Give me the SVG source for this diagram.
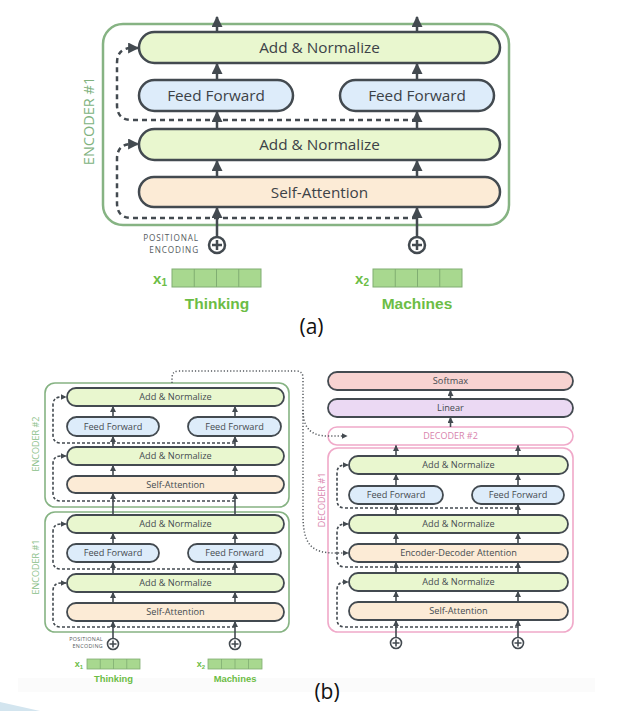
<svg xmlns="http://www.w3.org/2000/svg" width="622" height="711" viewBox="0 0 622 711">
  <defs>
    <style>
      .lbl { font-family: "Open Sans", "DejaVu Sans", sans-serif; fill: #3c4247; text-anchor: middle; font-weight: 500; }
      .la { font-size: 15.3px; }
      .lb { font-size: 9.2px; fill: #454b50; }
      .ba { stroke: #434a50; stroke-width: 2.5; }
      .bb { stroke: #434a50; stroke-width: 1.8; }
      .an { fill: #e9f7cf; }
      .ff { fill: #ddecfa; }
      .sa { fill: #fcebd6; }
      .sm { fill: #f7d3d1; }
      .ln { fill: #ebd9f3; }
      .enc-a { fill: none; stroke: #86b383; stroke-width: 2.5; }
      .enc-b { fill: none; stroke: #86b383; stroke-width: 1.6; }
      .dec-b { fill: none; stroke: #f0a9c9; stroke-width: 1.6; }
      .arr-a { stroke: #434a50; stroke-width: 2.5; fill: none; marker-end: url(#ha); }
      .arr-b { stroke: #434a50; stroke-width: 1.6; fill: none; marker-end: url(#hb); }
      .res-a { stroke: #434a50; stroke-width: 2.5; fill: none; stroke-dasharray: 5 4; marker-end: url(#ha); }
      .res-b { stroke: #434a50; stroke-width: 1.6; fill: none; stroke-dasharray: 3 2; marker-end: url(#hb); }
      .dot { stroke: #555a5f; stroke-width: 1.5; fill: none; stroke-dasharray: 1.2 2; marker-end: url(#hb); }
      .pe { font-family: "Open Sans", "DejaVu Sans", sans-serif; fill: #555b60; text-anchor: end; }
      .word { font-family: "Liberation Sans", Arial, sans-serif; font-weight: bold; fill: #6cbd45; text-anchor: middle; }
      .vec { fill: #a8d88f; stroke: #80ad72; }
      .side { font-family: "Open Sans", "DejaVu Sans", sans-serif; text-anchor: middle; }
      .cap { font-family: "Open Sans", "DejaVu Sans", sans-serif; fill: #111; text-anchor: middle; font-size: 21px; }
    </style>
    <marker id="ha" viewBox="0 0 10 10" refX="9" refY="5" markerWidth="11" markerHeight="11" markerUnits="userSpaceOnUse" orient="auto">
      <path d="M0,0 L10,5 L0,10 z" fill="#434a50"/>
    </marker>
    <marker id="hb" viewBox="0 0 10 10" refX="9" refY="5" markerWidth="6" markerHeight="6" markerUnits="userSpaceOnUse" orient="auto">
      <path d="M0,0 L10,5 L0,10 z" fill="#434a50"/>
    </marker>
  </defs>

  <rect width="622" height="711" fill="#ffffff"/>
  <!-- faint page band and corner accent -->
  <rect x="18" y="678" width="577" height="14" fill="#fbfbfb"/>
  <path d="M0,702 L40,711 L0,711 z" fill="#d3e5ef"/>

  <!-- ===================== (a) single encoder ===================== -->
  <g id="encoder-a">
    <rect class="enc-a" x="103" y="24" width="406" height="201" rx="20"/>
    <text class="side" transform="translate(94,121) rotate(-90)" font-size="14.5" fill="#80b27e">ENCODER #1</text>
  </g>
  <g id="a-addnorm2">
    <rect class="ba an" x="139" y="32" width="361" height="31" rx="15.5"/>
    <text class="lbl la" x="319.5" y="53">Add &amp; Normalize</text>
  </g>
  <g id="a-ff1">
    <rect class="ba ff" x="139" y="80" width="154" height="31" rx="15.5"/>
    <text class="lbl la" x="216" y="101">Feed Forward</text>
  </g>
  <g id="a-ff2">
    <rect class="ba ff" x="340" y="80" width="154" height="31" rx="15.5"/>
    <text class="lbl la" x="417" y="101">Feed Forward</text>
  </g>
  <g id="a-addnorm1">
    <rect class="ba an" x="139" y="129" width="361" height="31" rx="15.5"/>
    <text class="lbl la" x="319.5" y="150">Add &amp; Normalize</text>
  </g>
  <g id="a-selfattn">
    <rect class="ba sa" x="139" y="177" width="361" height="30" rx="15"/>
    <text class="lbl la" x="319.5" y="197.5">Self-Attention</text>
  </g>
  <g id="a-pe1">
    <circle cx="217" cy="245" r="8" fill="#fff" stroke="#434a50" stroke-width="2.5"/>
    <path d="M212,245 H222 M217,240 V250" stroke="#434a50" stroke-width="2.5"/>
    <text class="pe" x="199" y="241" font-size="8.2" letter-spacing="0.9">POSITIONAL</text>
    <text class="pe" x="199" y="252.5" font-size="8.2" letter-spacing="0.9">ENCODING</text>
  </g>
  <g id="a-pe2">
    <circle cx="417" cy="245" r="8" fill="#fff" stroke="#434a50" stroke-width="2.5"/>
    <path d="M412,245 H422 M417,240 V250" stroke="#434a50" stroke-width="2.5"/>
  </g>
  <g id="a-x1">
    <text class="word" x="160" y="284" font-size="15">x<tspan font-size="10" dy="2">1</tspan></text>
    <rect class="vec" x="172" y="269" width="89" height="18"/>
    <path d="M194.25,269 V287 M216.5,269 V287 M238.75,269 V287" stroke="#80ad72" fill="none"/>
    <text class="word" x="217" y="309" font-size="15.5">Thinking</text>
  </g>
  <g id="a-x2">
    <text class="word" x="362" y="284" font-size="15">x<tspan font-size="10" dy="2">2</tspan></text>
    <rect class="vec" x="373" y="269" width="89" height="18"/>
    <path d="M395.25,269 V287 M417.5,269 V287 M439.75,269 V287" stroke="#80ad72" fill="none"/>
    <text class="word" x="417" y="309" font-size="15.5">Machines</text>
  </g>
  <g id="a-connectors">
    <path class="res-a" d="M417,218 H132 Q117,218 117,203 V159 Q117,144 132,144 H138"/>
    <path class="res-a" d="M417,120 H132 Q117,120 117,105 V63 Q117,48 132,48 H138"/>
    <path class="arr-a" d="M217,237 V208"/>
    <path class="arr-a" d="M417,237 V208"/>
    <path class="arr-a" d="M217,177 V161"/>
    <path class="arr-a" d="M417,177 V161"/>
    <path class="arr-a" d="M217,129 V112"/>
    <path class="arr-a" d="M417,129 V112"/>
    <path class="arr-a" d="M217,80 V64"/>
    <path class="arr-a" d="M417,80 V64"/>
    <path class="arr-a" d="M217,32 V17"/>
    <path class="arr-a" d="M417,32 V17"/>
  </g>
  <text class="cap" x="311.5" y="334">(a)</text>

  <!-- ===================== (b) encoder/decoder stack ===================== -->
  <!-- encoder #2 -->
  <g id="b-encoder2">
    <rect class="enc-b" x="45" y="383" width="244" height="124" rx="10"/>
    <text class="side" transform="translate(39,444) rotate(-90)" font-size="9" fill="#8cbf8a">ENCODER #2</text>
    <rect class="bb an" x="67" y="388" width="217" height="18" rx="9"/>
    <text class="lbl lb" x="175.5" y="400.2">Add &amp; Normalize</text>
    <rect class="bb ff" x="67" y="417" width="92" height="19" rx="9.5"/>
    <text class="lbl lb" x="113" y="429.7">Feed Forward</text>
    <rect class="bb ff" x="188" y="417" width="93" height="19" rx="9.5"/>
    <text class="lbl lb" x="234.5" y="429.7">Feed Forward</text>
    <rect class="bb an" x="67" y="447" width="217" height="18" rx="9"/>
    <text class="lbl lb" x="175.5" y="459.2">Add &amp; Normalize</text>
    <rect class="bb sa" x="67" y="476" width="217" height="17" rx="8.5"/>
    <text class="lbl lb" x="175.5" y="487.7">Self-Attention</text>
  </g>
  <!-- encoder #1 -->
  <g id="b-encoder1">
    <rect class="enc-b" x="45" y="512" width="244" height="120" rx="10"/>
    <text class="side" transform="translate(39,567) rotate(-90)" font-size="9" fill="#8cbf8a">ENCODER #1</text>
    <rect class="bb an" x="67" y="515" width="217" height="18" rx="9"/>
    <text class="lbl lb" x="175.5" y="527.2">Add &amp; Normalize</text>
    <rect class="bb ff" x="67" y="544" width="92" height="18" rx="9"/>
    <text class="lbl lb" x="113" y="556.2">Feed Forward</text>
    <rect class="bb ff" x="188" y="544" width="93" height="18" rx="9"/>
    <text class="lbl lb" x="234.5" y="556.2">Feed Forward</text>
    <rect class="bb an" x="67" y="574" width="217" height="18" rx="9"/>
    <text class="lbl lb" x="175.5" y="586.2">Add &amp; Normalize</text>
    <rect class="bb sa" x="67" y="603" width="217" height="18" rx="9"/>
    <text class="lbl lb" x="175.5" y="615.2">Self-Attention</text>
  </g>
  <g id="b-inputs">
    <circle cx="113" cy="644" r="5.5" fill="#fff" stroke="#434a50" stroke-width="1.6"/>
    <path d="M109.5,644 H116.5 M113,640.5 V647.5" stroke="#434a50" stroke-width="1.6"/>
    <circle cx="235" cy="644" r="5.5" fill="#fff" stroke="#434a50" stroke-width="1.6"/>
    <path d="M231.5,644 H238.5 M235,640.5 V647.5" stroke="#434a50" stroke-width="1.6"/>
    <text class="pe" x="103" y="641" font-size="5.4" letter-spacing="0.3">POSITIONAL</text>
    <text class="pe" x="103" y="648" font-size="5.4" letter-spacing="0.3">ENCODING</text>
    <text class="word" x="79" y="667" font-size="9">x<tspan font-size="6" dy="1.5">1</tspan></text>
    <rect class="vec" x="87" y="659" width="53" height="10" stroke-width="0.8"/>
    <path d="M100.25,659 V669 M113.5,659 V669 M126.75,659 V669" stroke="#80ad72" stroke-width="0.8" fill="none"/>
    <text class="word" x="113.5" y="682" font-size="9.4">Thinking</text>
    <text class="word" x="201" y="667" font-size="9">x<tspan font-size="6" dy="1.5">2</tspan></text>
    <rect class="vec" x="208" y="659" width="54" height="10" stroke-width="0.8"/>
    <path d="M221.5,659 V669 M235,659 V669 M248.5,659 V669" stroke="#80ad72" stroke-width="0.8" fill="none"/>
    <text class="word" x="235" y="682" font-size="9.4">Machines</text>
  </g>

  <!-- output head -->
  <g id="b-softmax">
    <rect class="bb sm" x="328" y="372" width="245" height="18" rx="9"/>
    <text class="lbl lb" x="450.5" y="384.2">Softmax</text>
  </g>
  <g id="b-linear">
    <rect class="bb ln" x="328" y="399" width="245" height="18" rx="9"/>
    <text class="lbl lb" x="450.5" y="411.2">Linear</text>
  </g>
  <g id="b-decoder2">
    <rect class="dec-b" x="328" y="427" width="245" height="18" rx="9"/>
    <text class="side" x="450.5" y="439.2" font-size="9" fill="#d883ad">DECODER #2</text>
  </g>
  <!-- decoder #1 -->
  <g id="b-decoder1">
    <rect class="dec-b" x="328" y="448" width="245" height="184" rx="10"/>
    <text class="side" transform="translate(324.5,500) rotate(-90)" font-size="9" fill="#d883ad">DECODER #1</text>
    <rect class="bb an" x="349" y="456" width="219" height="18" rx="9"/>
    <text class="lbl lb" x="458.5" y="468.2">Add &amp; Normalize</text>
    <rect class="bb ff" x="349" y="486" width="94" height="18" rx="9"/>
    <text class="lbl lb" x="396" y="498.2">Feed Forward</text>
    <rect class="bb ff" x="472" y="486" width="92" height="18" rx="9"/>
    <text class="lbl lb" x="518" y="498.2">Feed Forward</text>
    <rect class="bb an" x="349" y="515" width="219" height="18" rx="9"/>
    <text class="lbl lb" x="458.5" y="527.2">Add &amp; Normalize</text>
    <rect class="bb sa" x="349" y="544" width="219" height="18" rx="9"/>
    <text class="lbl lb" x="458.5" y="556.2">Encoder-Decoder Attention</text>
    <rect class="bb an" x="349" y="573" width="219" height="18" rx="9"/>
    <text class="lbl lb" x="458.5" y="585.2">Add &amp; Normalize</text>
    <rect class="bb sa" x="349" y="602" width="219" height="18" rx="9"/>
    <text class="lbl lb" x="458.5" y="614.2">Self-Attention</text>
  </g>
  <g id="b-dec-inputs">
    <circle cx="396" cy="643" r="5.5" fill="#fff" stroke="#434a50" stroke-width="1.6"/>
    <path d="M392.5,643 H399.5 M396,639.5 V646.5" stroke="#434a50" stroke-width="1.6"/>
    <circle cx="518" cy="643" r="5.5" fill="#fff" stroke="#434a50" stroke-width="1.6"/>
    <path d="M514.5,643 H521.5 M518,639.5 V646.5" stroke="#434a50" stroke-width="1.6"/>
  </g>

  <g id="b-connectors">
    <!-- encoder residuals -->
    <path class="res-b" d="M235,627 H61 Q53,627 53,619 V591 Q53,583 61,583 H66"/>
    <path class="res-b" d="M235,569 H61 Q53,569 53,561 V532 Q53,524 61,524 H66"/>
    <path class="res-b" d="M235,501 H61 Q53,501 53,493 V464 Q53,456 61,456 H66"/>
    <path class="res-b" d="M235,443 H61 Q53,443 53,435 V405 Q53,397 61,397 H66"/>
    <!-- encoder flow -->
    <path class="arr-b" d="M113,638.5 V621.5"/>
    <path class="arr-b" d="M235,638.5 V621.5"/>
    <path class="arr-b" d="M113,603 V592.5"/>
    <path class="arr-b" d="M235,603 V592.5"/>
    <path class="arr-b" d="M113,574 V562.5"/>
    <path class="arr-b" d="M235,574 V562.5"/>
    <path class="arr-b" d="M113,544 V533.5"/>
    <path class="arr-b" d="M235,544 V533.5"/>
    <path class="arr-b" d="M113,515 V493.5"/>
    <path class="arr-b" d="M235,515 V493.5"/>
    <path class="arr-b" d="M113,476 V465.5"/>
    <path class="arr-b" d="M235,476 V465.5"/>
    <path class="arr-b" d="M113,447 V436.5"/>
    <path class="arr-b" d="M235,447 V436.5"/>
    <path class="arr-b" d="M113,417 V406.5"/>
    <path class="arr-b" d="M235,417 V406.5"/>
    <!-- decoder residuals -->
    <path class="res-b" d="M518,627 H345 Q337,627 337,619 V590 Q337,582 345,582 H348"/>
    <path class="res-b" d="M518,567 H345 Q337,567 337,559 V532 Q337,524 345,524 H348"/>
    <path class="res-b" d="M518,508 H345 Q337,508 337,500 V473 Q337,465 345,465 H348"/>
    <!-- decoder flow -->
    <path class="arr-b" d="M396,637.5 V620.5"/>
    <path class="arr-b" d="M518,637.5 V620.5"/>
    <path class="arr-b" d="M396,602 V591.5"/>
    <path class="arr-b" d="M518,602 V591.5"/>
    <path class="arr-b" d="M396,573 V562.5"/>
    <path class="arr-b" d="M518,573 V562.5"/>
    <path class="arr-b" d="M396,544 V533.5"/>
    <path class="arr-b" d="M518,544 V533.5"/>
    <path class="arr-b" d="M396,515 V504.5"/>
    <path class="arr-b" d="M518,515 V504.5"/>
    <path class="arr-b" d="M396,486 V474.5"/>
    <path class="arr-b" d="M518,486 V474.5"/>
    <path class="arr-b" d="M396,456 V445.5"/>
    <path class="arr-b" d="M518,456 V445.5"/>
    <path class="arr-b" d="M450.5,427 V417.5"/>
    <path class="arr-b" d="M450.5,399 V390.5"/>
    <!-- encoder output to decoders -->
    <path class="dot" d="M172,383 V378 Q172,371 179,371 H296 Q303,371 303,378 V515 C303,545 312,553 335,553 H348"/>
    <path class="dot" d="M303,410 C303,428 311,436 328,436 H347"/>
  </g>
  <text class="cap" x="327" y="699">(b)</text>
</svg>
